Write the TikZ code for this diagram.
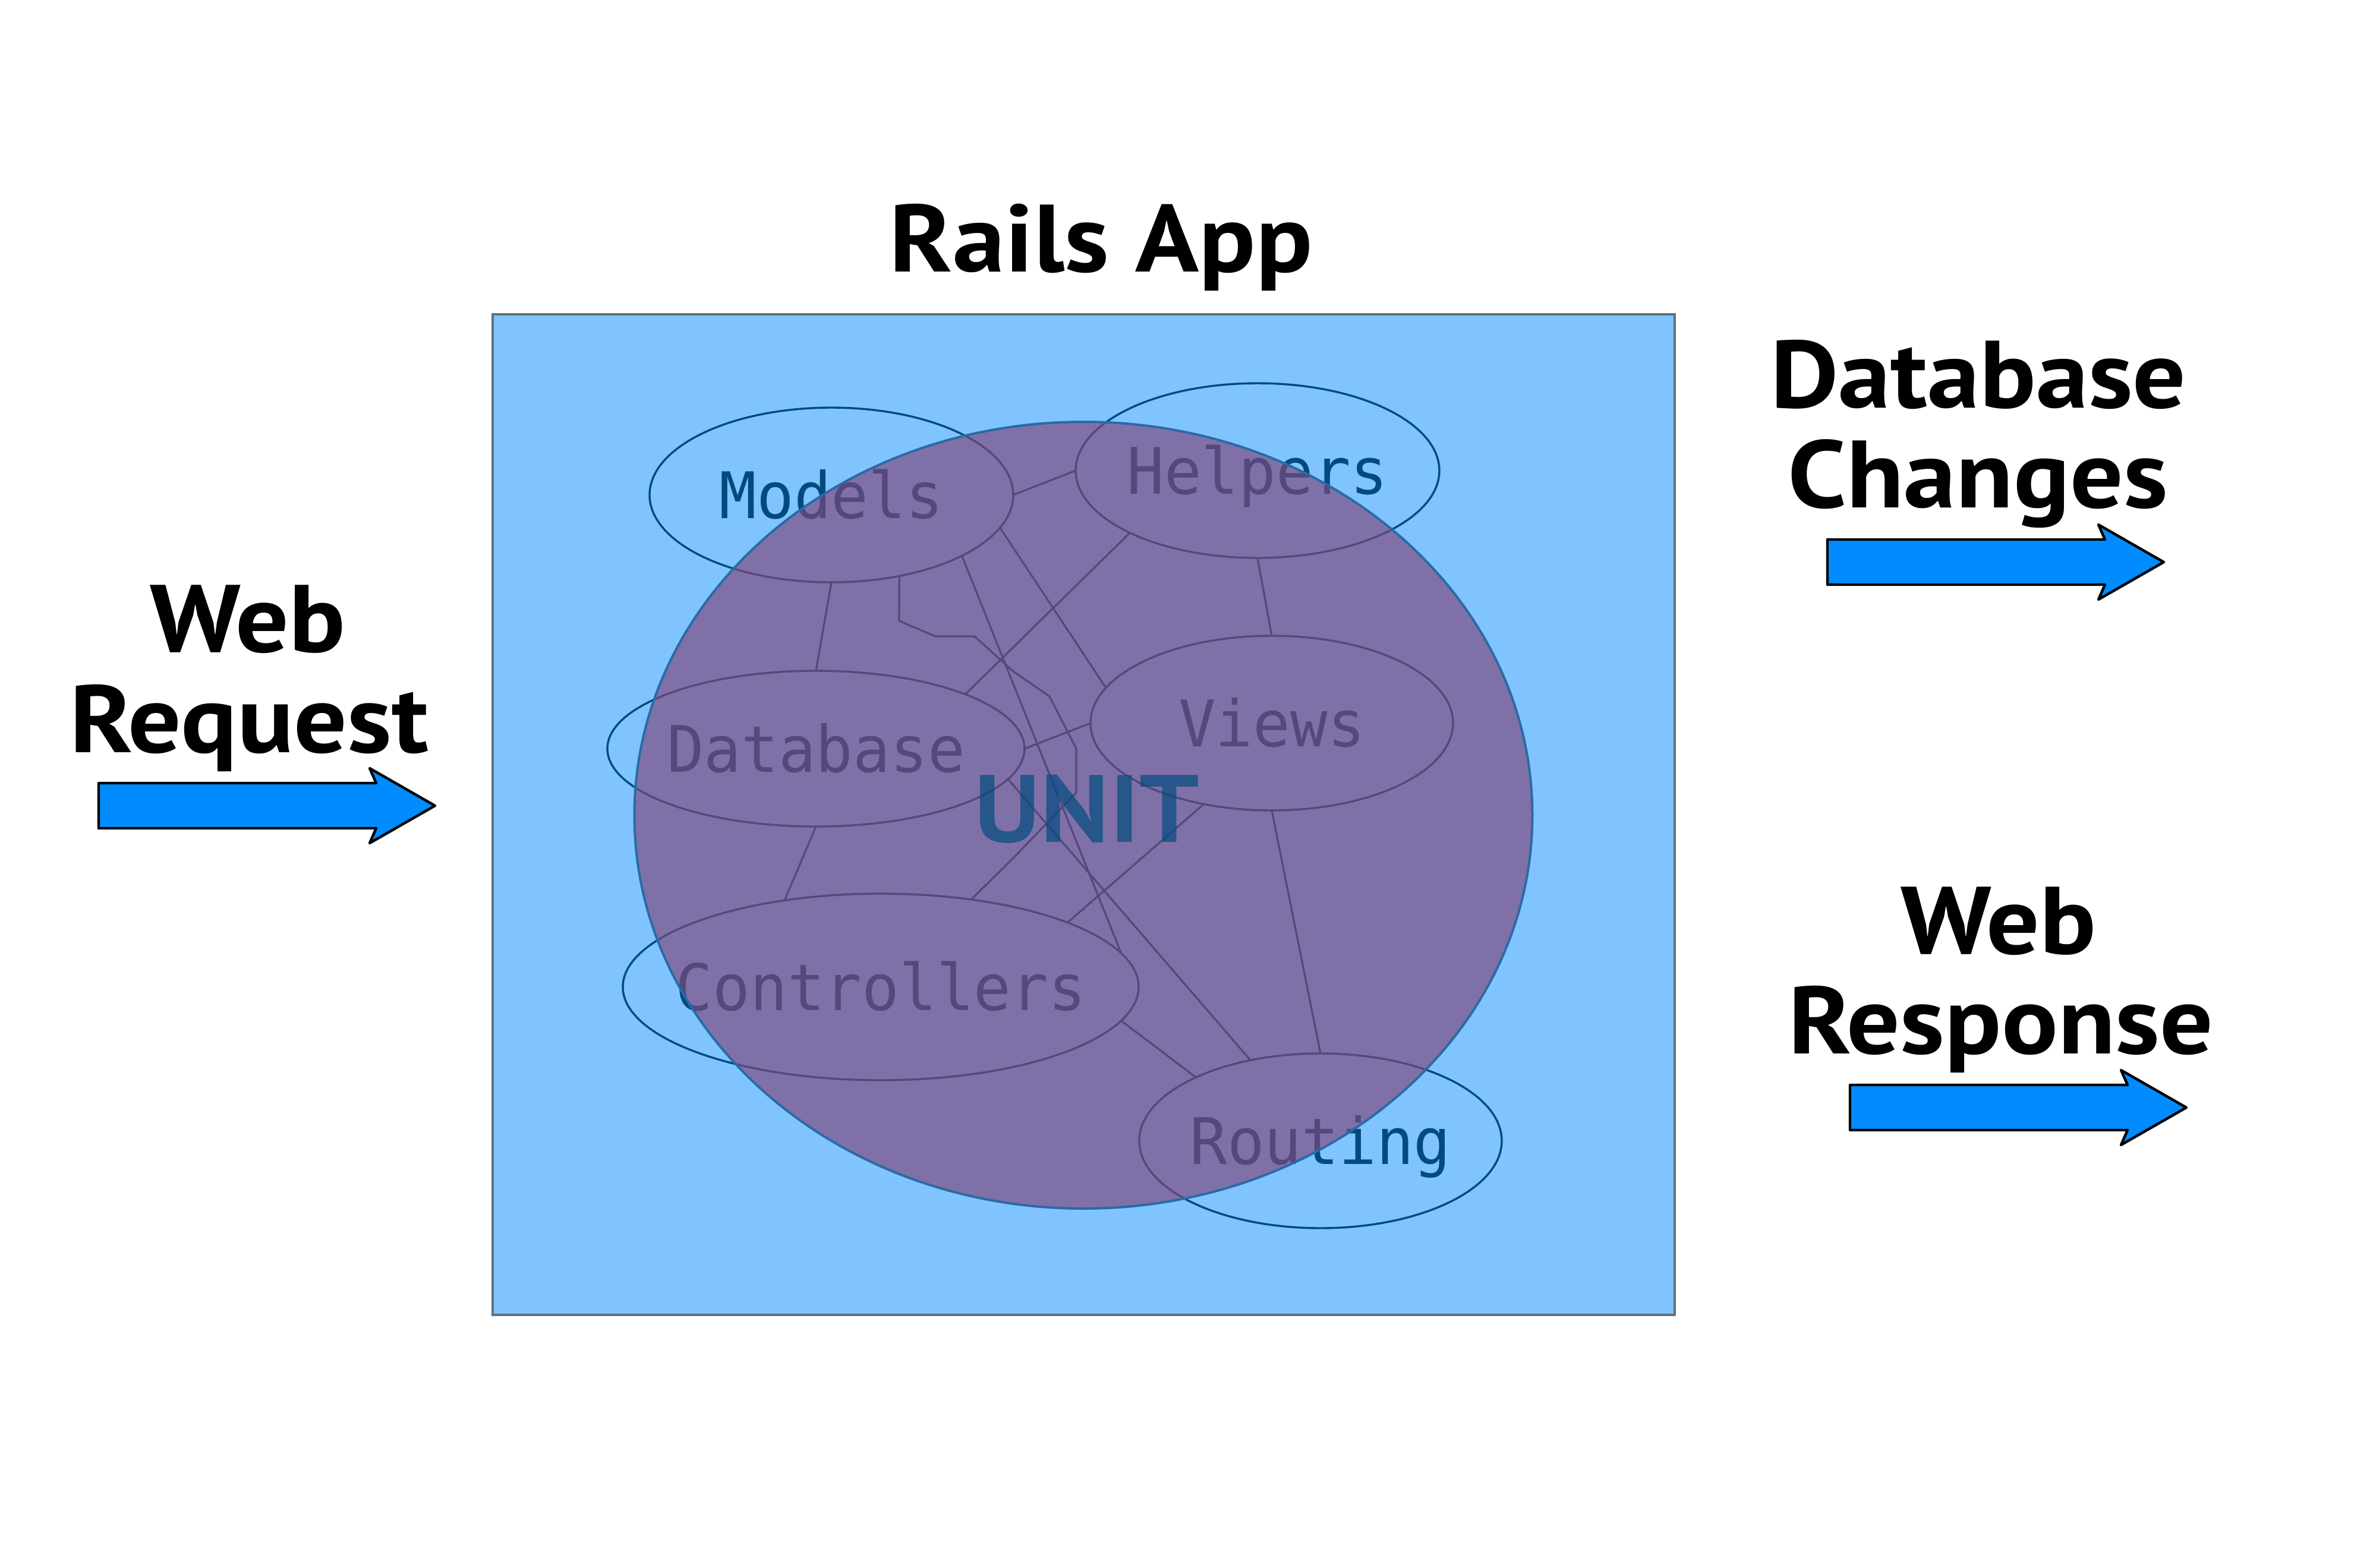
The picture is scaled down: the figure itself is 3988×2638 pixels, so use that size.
\documentclass[tikz,border=0pt]{standalone}
\usepackage{fontspec}
\setmainfont{PT Sans}
\newfontfamily\lab{PT Sans}[FakeStretch=1.1]
\newfontfamily\mono{DejaVu Sans Mono}[FakeStretch=0.965]
\usetikzlibrary{shapes.geometric}
\definecolor{appblue}{RGB}{128,196,255}
\definecolor{appedge}{RGB}{95,112,125}
\definecolor{linkblue}{RGB}{0,74,127}
\definecolor{unitpurple}{RGB}{127,72,124}
\definecolor{unitedge}{RGB}{43,106,165}
\definecolor{arrowblue}{RGB}{0,140,255}
\newcommand\ctext[1]{\makebox[0pt]{\raisebox{-0.3645em}[0pt][0pt]{#1}}}
\begin{document}
\begin{tikzpicture}[x=0.25pt,y=-0.25pt,
  comp/.style={ellipse, draw=linkblue, line width=0.85pt, inner sep=0pt, outer sep=0pt,
    text=linkblue, font=\mono\fontsize{27}{32}\selectfont},
  link/.style={draw=linkblue, line width=0.8pt, line join=round},
  biglabel/.style={anchor=base, inner sep=0pt, font=\lab\bfseries\fontsize{40.25}{48}\selectfont},
  blockarrow/.style={fill=arrowblue, draw=black, line width=1.1pt, line join=round}]
\useasboundingbox (0,0) rectangle (3988,2638);
\fill[white] (0,0) rectangle (3988,2638);
% application box
\path[fill=appblue, draw=appedge, line width=1pt] (829,529) rectangle (2818,2213);
% components
\node[comp, minimum width=153pt, minimum height=73.5pt] (M) at (1399,833) {\ctext{Models}};
\node[comp, minimum width=153pt, minimum height=73.5pt] (H) at (2116,792) {\ctext{Helpers}};
\node[comp, minimum width=152.5pt, minimum height=73.5pt] (V) at (2140,1217) {\ctext{Views}};
\node[comp, minimum width=175.5pt, minimum height=65.5pt] (D) at (1373,1260) {\ctext{Database}};
\node[comp, minimum width=217pt, minimum height=78.5pt] (C) at (1482,1661) {\ctext{Controllers}};
\node[comp, minimum width=152.5pt, minimum height=73.5pt] (R) at (2222,1920) {\ctext{Routing}};
% connections
\draw[link] (M.east) -- (H.west);
\draw[link] (M.south) -- (D.north);
\draw[link] (M.-50) -- (1513,1045) -- (1574,1071) -- (1640,1071) -- (1705,1130) -- (1766,1172)
  -- (1811,1260) -- (1811,1334) -- (1707,1442) -- (C.44);
\draw[link] (M.-25.5) -- (C.8.9);
\draw[link] (M.-11.35) -- (V.168.4);
\draw[link] (H.-154.6) -- (D.20.2);
\draw[link] (H.south) -- (V.north);
\draw[link] (D.east) -- (V.west);
\draw[link] (D.south) -- (C.138.15);
\draw[link] (V.-130.7) -- (C.19.7);
\draw[link] (V.south) -- (R.north);
\draw[link] (C.-8.63) -- (R.153.96);
\draw[link] (D.-9.06) -- (R.131.37);
% unit overlay
\node[ellipse, fill=unitpurple, fill opacity=0.664, draw=unitedge, line width=1pt,
  inner sep=0pt, minimum width=377.75pt, minimum height=331pt] (unit) at (1823,1372) {};
\node[biglabel, text=linkblue, text opacity=0.685] (unittext) at (1829,1417) {UNIT};
% labels
\node[biglabel] (title) at (1853,457) {Rails App};
\node[biglabel] (req1) at (417,1097) {Web};
\node[biglabel] (req2) at (419,1266) {Request};
\node[biglabel] (db1) at (3329,686) {Database};
\node[biglabel] (db2) at (3328,854) {Changes};
\node[biglabel] (resp1) at (3363,1605) {Web};
\node[biglabel] (resp2) at (3367,1773) {Response};
% block arrows
\draw[blockarrow, shift={(166,1356)}] (0,-38) -- (467,-38) -- (456,-63) -- (566,0) -- (456,63) -- (467,38) -- (0,38) -- cycle;
\draw[blockarrow, shift={(3075,946)}] (0,-38) -- (467,-38) -- (456,-63) -- (566,0) -- (456,63) -- (467,38) -- (0,38) -- cycle;
\draw[blockarrow, shift={(3113,1864)}] (0,-38) -- (467,-38) -- (456,-63) -- (566,0) -- (456,63) -- (467,38) -- (0,38) -- cycle;
\end{tikzpicture}
\end{document}
